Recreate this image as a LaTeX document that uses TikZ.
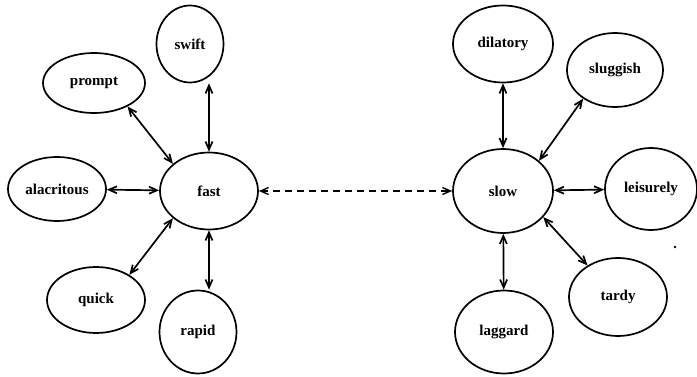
\documentclass[tikz,border=0pt]{standalone}
\usepackage{fontspec}
\setmainfont{Liberation Serif}
\usetikzlibrary{arrows.meta,shapes}

\begin{document}
\begin{tikzpicture}[x=1pt,y=1pt]
                \tikzstyle{every node}+=[inner sep=0pt]
                \tikzstyle{word}=[draw,ellipse,line width=1.7pt,font=\bfseries\fontsize{15}{15}\selectfont]
                \tikzstyle{link}=[{Straight Barb[length=8pt,width=7pt]}-{Straight Barb[length=8pt,width=7pt]},line width=1.7pt]
                \useasboundingbox (0,0) rectangle (697,-377);
                % fast and its words
                \node [word,minimum width=98pt,minimum height=77pt] (fast) at (209,-191) {fast};
                \node [word,minimum width=67pt,minimum height=77pt] (swift) at (190,-44) {swift};
                \node [word,minimum width=102pt,minimum height=60pt] (prompt) at (94,-83) {prompt};
                \node [word,minimum width=98pt,minimum height=64pt] (alacritous) at (57,-189) {alacritous};
                \node [word,minimum width=98pt,minimum height=66pt] (quick) at (96,-300) {quick};
                \node [word,minimum width=77pt,minimum height=83pt] (rapid) at (198,-332) {rapid};
                % slow and its words
                \node [word,minimum width=100pt,minimum height=84pt] (slow) at (503,-191) {slow};
                \node [word,minimum width=100pt,minimum height=77pt] (dilatory) at (503,-44) {dilatory};
                \node [word,minimum width=96pt,minimum height=74pt] (sluggish) at (615,-70) {sluggish};
                \node [word,minimum width=92pt,minimum height=82pt] (leisurely) at (651,-189) {leisurely};
                \node [word,minimum width=98pt,minimum height=78pt] (tardy) at (618,-297) {tardy};
                \node [word,minimum width=98pt,minimum height=83pt] (laggard) at (504,-332) {laggard};
                \draw [link] (fast.north) -- (fast.north |- swift.south);
                \draw [link] (prompt.325) -- (fast.143);
                \draw [link] (alacritous) -- (fast);
                \draw [link] (quick.37) -- (fast.217);
                \draw [link] (fast.south) -- (fast.south |- rapid.north);
                \draw [link] (dilatory) -- (slow);
                \draw [link] (sluggish.222) -- (slow.40);
                \draw [link] (leisurely) -- (slow);
                \draw [link] (tardy.134) -- (slow.327);
                \draw [link] (laggard) -- (slow);
                \draw [link, line width=1.4pt, dash pattern=on 7pt off 5pt] (fast) -- (slow);
                \fill (675,-247) circle (1.4);
\end{tikzpicture}
\end{document}
